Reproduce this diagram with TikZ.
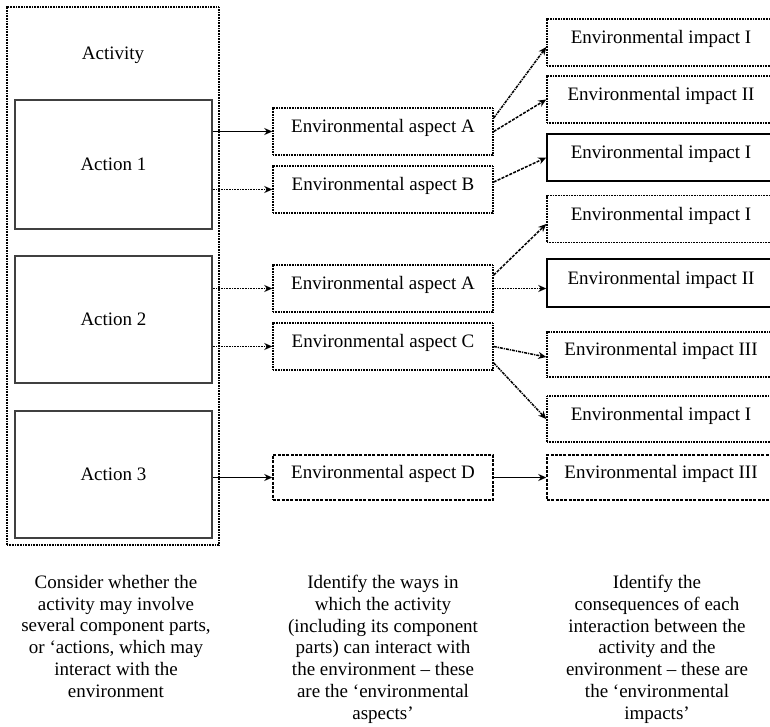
\documentclass[tikz,border=0pt]{standalone}
\usepackage{fontspec}
\setmainfont{Liberation Serif}
\usetikzlibrary{arrows.meta,calc}
\begin{document}
\begin{tikzpicture}[x=1pt,y=-1pt,
  every node/.style={font=\fontsize{19}{21.8}\selectfont},
  dotln/.style={dash pattern=on 1pt off 0.6pt},
  dashln/.style={dash pattern=on 3pt off 1.3pt},
  dashdotln/.style={dash pattern=on 3pt off 1pt on 1.2pt off 1pt},
  actbox/.style={rectangle, draw=black!75, line width=1.6pt, minimum width=197pt, inner sep=0pt},
  abox/.style={rectangle, draw, line width=1.5pt, minimum width=220pt, minimum height=47pt, inner sep=0pt, text height=12.5pt, text depth=10pt},
  ibox/.style={abox, minimum width=228pt},
  conn/.style={-{Stealth[length=8pt,width=7pt]}, line width=1.5pt},
  note/.style={anchor=north, align=center, inner sep=0pt}
]
\useasboundingbox (0,0) rectangle (770,726);

% activity container
\node[rectangle, draw, line width=1.6pt, dotln, minimum width=212pt, minimum height=538pt, inner sep=0pt] (activity) at (113,276) {};
\node (activitylabel) at (113,55) {Activity};

% actions
\node[actbox, minimum height=129pt] (act1) at (113.5,164.5) {Action 1};
\node[actbox, minimum height=127pt] (act2) at (113.5,319.5) {Action 2};
\node[actbox, minimum height=127pt] (act3) at (113.5,474.5) {Action 3};

% aspects
\node[abox, dotln] (aspA1) at (383,131.5) {Environmental aspect A};
\node[abox, dotln] (aspB)  at (383,189.5) {Environmental aspect B};
\node[abox, dotln] (aspA2) at (383,288.5) {Environmental aspect A};
\node[abox, dotln] (aspC)  at (383,346.5) {Environmental aspect C};
\node[abox, dashln, minimum height=45pt] (aspD) at (383,477.5) {Environmental aspect D};

% impacts
\node[ibox, dotln] (impI1)   at (661,42.5)  {Environmental impact I};
\node[ibox, dotln] (impII1)  at (661,99.5)  {Environmental impact II};
\node[ibox]        (impIB)   at (661,157.5) {Environmental impact I};
\node[ibox, dotln] (impIA2)  at (661,219)   {Environmental impact I};
\node[ibox, minimum height=48pt] (impIIA2) at (661,283) {Environmental impact II};
\node[ibox, dotln, minimum height=45pt] (impIIIC) at (661,354.5) {Environmental impact III};
\node[ibox, dotln, minimum height=46pt] (impIC) at (661,419) {Environmental impact I};
\node[ibox, dashln, minimum height=45pt] (impIIID) at (661,477.5) {Environmental impact III};

% actions -> aspects
\draw[conn] (aspA1.west -| act1.east) -- (aspA1.west);
\draw[conn, dotln] (aspB.west -| act1.east) -- (aspB.west);
\draw[conn, dotln] (aspA2.west -| act2.east) -- (aspA2.west);
\draw[conn, dotln] (aspC.west -| act2.east) -- (aspC.west);
\draw[conn] (aspD.west -| act3.east) -- (aspD.west);

% aspects -> impacts
\draw[conn, dashdotln] ([yshift=13.5pt]aspA1.east) -- ([yshift=-4.5pt]impI1.west);
\draw[conn, dashln] (aspA1.east) -- (impII1.west);
\draw[conn, dashln] ([yshift=7.5pt]aspB.east) -- (impIB.west);
\draw[conn, dashln] ([yshift=13.5pt]aspA2.east) -- ([yshift=-5pt]impIA2.west);
\draw[conn, dotln] (aspA2.east) -- (aspA2.east -| impIIA2.west);
\draw[conn, dashdotln] (aspC.east) -- ([yshift=-2.5pt]impIIIC.west);
\draw[conn, dashdotln] ([yshift=-16.5pt]aspC.east) -- (impIC.west);
\draw[conn] (aspD.east) -- (aspD.east -| impIIID.west);

% explanatory notes
\node[note] (note1) at (116,575) {Consider whether the\\activity may involve\\several component parts,\\or ‘actions, which may\\interact with the\\environment};
\node[note] (note2) at (383,575) {Identify the ways in\\which the activity\\(including its component\\parts) can interact with\\the environment – these\\are the ‘environmental\\aspects’};
\node[note] (note3) at (657,575) {Identify the\\consequences of each\\interaction between the\\activity and the\\environment – these are\\the ‘environmental\\impacts’};
\end{tikzpicture}
\end{document}
